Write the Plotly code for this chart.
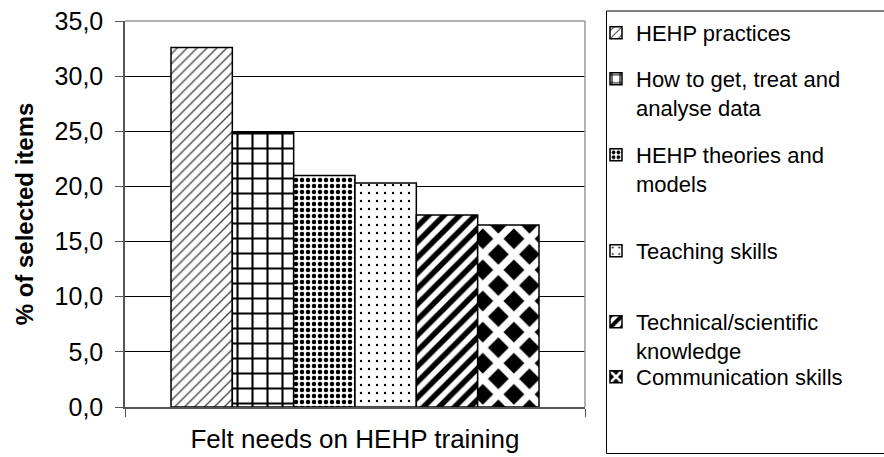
import plotly.graph_objects as go

# ---- data ----
category = "Felt needs on HEHP training"
series_names = [
    "HEHP practices",
    "How to get, treat and<br>analyse data",
    "HEHP theories and<br>models",
    "Teaching skills",
    "Technical/scientific<br>knowledge",
    "Communication skills",
]
values = [32.6, 24.9, 21.0, 20.3, 17.4, 16.5]
y_ticks = [0, 5, 10, 15, 20, 25, 30, 35]

# ---- styles ----
patterns = [
    dict(shape="/", size=7, solidity=0.2, fgcolor="#4a4a4a", bgcolor="white", fgopacity=1),
    dict(shape="+", size=15, solidity=0.26, fgcolor="black", bgcolor="white", fgopacity=1),
    dict(shape=".", size=6, solidity=0.45, fgcolor="black", bgcolor="white", fgopacity=1),
    dict(shape=".", size=8, solidity=0.07, fgcolor="black", bgcolor="white", fgopacity=1),
    dict(shape="/", size=11, solidity=0.5, fgcolor="black", bgcolor="white", fgopacity=1),
    dict(shape="x", size=22, solidity=0.55, fgcolor="white", bgcolor="black", fgopacity=1),
]
# legend entry tops in page pixels
legend_tops = [12, 58, 134, 230, 301, 356]

FONT = "Liberation Sans, Arial, sans-serif"
L, R, T, B = 125, 299, 21, 50
W, H = 884, 457
pw = W - L - R
ph = H - T - B

fig = go.Figure()
for i, (name, v) in enumerate(zip(series_names, values)):
    lg = "legend" if i == 0 else f"legend{i+1}"
    fig.add_trace(go.Bar(
        x=[category], y=[v], name=name,
        marker=dict(color="white", pattern=patterns[i],
                    line=dict(color="black", width=1.5)),
        legend=lg,
    ))

layout_legends = {}
for i, top in enumerate(legend_tops):
    key = "legend" if i == 0 else f"legend{i+1}"
    layout_legends[key] = dict(
        xref="container", yref="container",
        x=596 / W, y=1 - top / H, xanchor="left", yanchor="top",
        bgcolor="rgba(0,0,0,0)", borderwidth=0,
        font=dict(family=FONT, size=22, color="black"),
        valign="top",
    )

fig.update_layout(
    width=W, height=H,
    margin=dict(l=L, r=R, t=T, b=B, autoexpand=False),
    paper_bgcolor="white", plot_bgcolor="white",
    barmode="group", bargap=0.2, bargroupgap=0,
    separators=",.",
    font=dict(family=FONT, size=22, color="black"),
    showlegend=True,
    **layout_legends,
)

fig.update_yaxes(
    range=[0, 35], tickvals=y_ticks, tickformat=".1f",
    showgrid=True, gridcolor="black", gridwidth=1,
    ticks="outside", ticklen=8, tickcolor="#555555",
    showline=True, linecolor="#555555", linewidth=1.5,
    zeroline=False, automargin=False,
    ticklabelstandoff=7,
    tickfont=dict(family=FONT, size=25, color="black"),
    title=dict(text="<b>% of selected items</b>", standoff=14,
               font=dict(family=FONT, size=24, color="black")),
)
fig.update_xaxes(
    tickson="boundaries", ticks="outside", ticklen=8, tickcolor="#555555",
    showline=True, linecolor="#555555", linewidth=1.5,
    showgrid=False, zeroline=False, automargin=False,
    tickfont=dict(family=FONT, size=26, color="black"),
    ticklabelstandoff=8,
)

# plot-area border (top/right) and legend frame (open on the right, cut by the page edge)
fig.add_shape(type="line", xref="paper", yref="paper", x0=0, x1=1, y0=1, y1=1,
              line=dict(color="#999999", width=1.5), layer="above")
fig.add_shape(type="line", xref="paper", yref="paper", x0=1, x1=1, y0=0, y1=1,
              line=dict(color="#999999", width=1.5), layer="above")
fx0 = (606.5 - L) / pw
fx1 = (W + 200 - L) / pw
fy0 = (H - B - 453.5) / ph
fy1 = (H - B - 11) / ph
fig.add_shape(type="path", xref="paper", yref="paper",
              path=f"M {fx1},{fy1} L {fx0},{fy1} L {fx0},{fy0} L {fx1},{fy0}",
              line=dict(color="black", width=1), layer="above")

fig.write_html("out.html", config={"displayModeBar": False},
               post_script="document.body.style.margin='0px';")
